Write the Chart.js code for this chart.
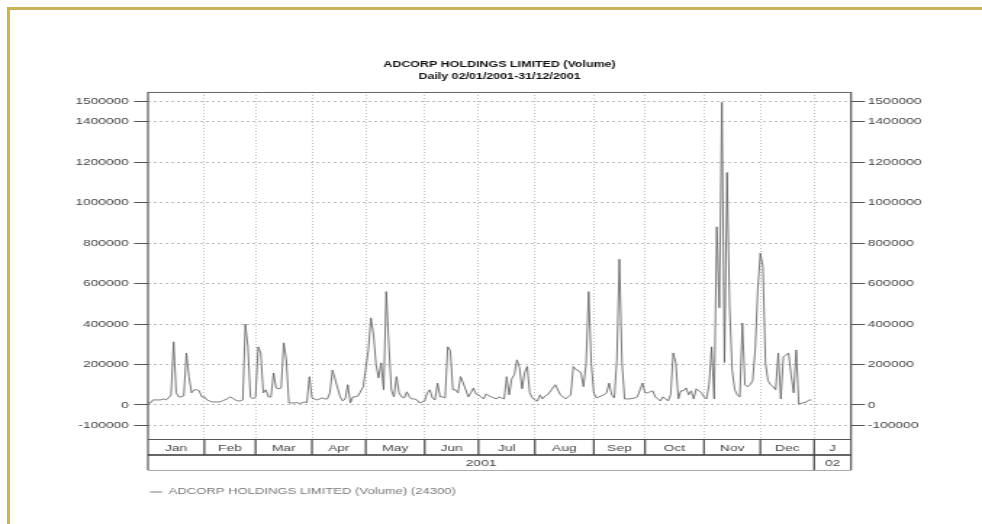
<!DOCTYPE html>
<html>
<head>
<meta charset="utf-8">
<script src="https://cdn.jsdelivr.net/npm/chart.js@4.4.1/dist/chart.umd.min.js"></script>
<style>
  html, body { margin: 0; padding: 0; background: #fff; }
  #frame {
    position: absolute; left: 7px; top: 7px; width: 975px; height: 517px;
    border-top: 3px solid #c9b45a; border-left: 3px solid #c9b45a; box-sizing: border-box;
  }
  #c { position: absolute; left: 0; top: 0; }
</style>
</head>
<body>
<div id="frame"></div>
<!-- the source picture is stretched sideways, so the canvas is drawn narrow and scaled up by css -->
<canvas id="c" width="677" height="524" style="width:982px;height:524px"></canvas>
<script>
const titleLines = ['ADCORP HOLDINGS LIMITED (Volume)', 'Daily 02/01/2001-31/12/2001'];
const seriesLabel = 'ADCORP HOLDINGS LIMITED (Volume) (24300)';
const monthNames = ['Jan', 'Feb', 'Mar', 'Apr', 'May', 'Jun', 'Jul', 'Aug', 'Sep', 'Oct', 'Nov', 'Dec', 'J'];
const yearNames = ['2001', '02'];
const yTicks = [-100000, 0, 200000, 400000, 600000, 800000, 1000000, 1200000, 1400000, 1500000];
const Y_MIN = -168000;
const Y_MAX = 1546000;
const X_MAX = 274.4; // axis runs a little into Jan 2002 (weekday index)

// JSE holidays in 2001 (no trading)
const holidays = ['2001-01-01', '2001-03-21', '2001-04-13', '2001-04-16', '2001-04-27', '2001-05-01',
  '2001-08-09', '2001-09-24', '2001-12-17', '2001-12-25', '2001-12-26'];

// daily volume, one value per trading day, month by month
const jan = [10000, 10000, 25000, 25000, 25000, 25000, 30000, 25000, 35000, 50000, 312000, 60000, 40000, 40000, 45000, 257000, 140000, 60000, 75000, 75000, 70000, 40000];
const feb = [40000, 25000, 20000, 15000, 15000, 15000, 15000, 20000, 25000, 30000, 40000, 35000, 25000, 20000, 20000, 25000, 400000, 290000, 40000, 30000];
const mar = [40000, 287000, 257000, 60000, 75000, 40000, 40000, 158000, 84000, 80000, 84000, 307000, 223000, 10000, 10000, 12000, 8000, 10000, 15000, 12000, 140000];
const apr = [35000, 30000, 25000, 30000, 35000, 30000, 30000, 60000, 173000, 40000, 20000, 30000, 100000, 10000, 40000, 40000, 45000, 90000];
const may = [270000, 430000, 350000, 200000, 134000, 208000, 75000, 560000, 300000, 74000, 40000, 140000, 60000, 40000, 35000, 65000, 40000, 30000, 30000, 25000, 10000, 15000];
const jun = [20000, 60000, 75000, 35000, 25000, 108000, 40000, 40000, 35000, 287000, 270000, 75000, 75000, 60000, 140000, 110000, 75000, 40000, 60000, 84000, 55000];
const jul = [50000, 40000, 30000, 55000, 45000, 40000, 35000, 30000, 40000, 35000, 30000, 140000, 50000, 130000, 150000, 223000, 185000, 80000, 160000, 190000, 60000, 35000];
const aug = [25000, 20000, 50000, 30000, 45000, 50000, 84000, 100000, 74000, 50000, 40000, 30000, 40000, 50000, 190000, 175000, 170000, 158000, 90000, 205000, 560000, 205000];
const sep = [60000, 35000, 40000, 45000, 50000, 60000, 108000, 50000, 35000, 220000, 720000, 210000, 30000, 30000, 30000, 35000, 40000, 74000, 108000];
const oct = [60000, 60000, 65000, 70000, 40000, 30000, 20000, 40000, 30000, 20000, 50000, 257000, 210000, 30000, 70000, 70000, 84000, 50000, 70000, 30000, 80000, 70000, 60000];
const nov = [40000, 30000, 100000, 287000, 30000, 880000, 480000, 1495000, 210000, 1148000, 485000, 170000, 75000, 50000, 40000, 405000, 100000, 90000, 100000, 120000, 272000, 570000];
const dec = [750000, 683000, 208000, 120000, 100000, 90000, 75000, 257000, 30000, 238000, 257000, 150000, 60000, 272000, 5000, 15000, 25000, 24300];

const monthVolumes = [jan, feb, mar, apr, may, jun, jul, aug, sep, oct, nov, dec];

// x = weekday index from 2 Jan 2001; holidays keep their slot but have no point
const points = [];
const monthStarts = [];
const used = new Array(12).fill(0);
let idx = 0;
const day = new Date(Date.UTC(2001, 0, 2));
while (day.getTime() <= Date.UTC(2002, 0, 1)) {
  const dow = day.getUTCDay();
  if (dow !== 0 && dow !== 6) {
    const m = day.getUTCFullYear() === 2002 ? 12 : day.getUTCMonth();
    if (monthStarts.length === m) monthStarts.push(idx);
    const iso = day.toISOString().slice(0, 10);
    if (m < 12 && !holidays.includes(iso)) {
      points.push({ x: idx, y: monthVolumes[m][used[m]++] });
    }
    idx++;
  }
  day.setUTCDate(day.getUTCDate() + 1);
}

const FONT = '"Liberation Sans", Arial, sans-serif';

// plot frame plus the month / year bands under the plot
const bandsPlugin = {
  id: 'bands',
  afterDraw(chart) {
    const { ctx, chartArea: a, scales: { x } } = chart;
    const top = a.bottom;
    const mid = top + 16;
    const bot = top + 31;
    const hline = (y, x1, x2, w, c) => {
      ctx.beginPath(); ctx.lineWidth = w; ctx.strokeStyle = c;
      ctx.moveTo(x1, y); ctx.lineTo(x2, y); ctx.stroke();
    };
    const vline = (xp, y1, y2, w, c) => {
      ctx.beginPath(); ctx.lineWidth = w; ctx.strokeStyle = c;
      ctx.moveTo(xp, y1); ctx.lineTo(xp, y2); ctx.stroke();
    };
    ctx.save();
    hline(a.top + 0.5, a.left, a.right, 1, '#666');
    hline(top + 0.5, a.left, a.right, 1, '#555');
    vline(a.left, a.top, bot, 1.2, '#555');
    vline(a.right, a.top, bot, 1.2, '#555');
    hline(mid, a.left, a.right, 1.6, '#333');
    hline(bot + 0.5, a.left, a.right, 1, '#aaa');

    ctx.font = '9.5px ' + FONT;
    ctx.fillStyle = '#444';
    ctx.textAlign = 'center';
    ctx.textBaseline = 'middle';
    monthNames.forEach((name, i) => {
      const x1 = x.getPixelForValue(monthStarts[i]);
      const x2 = i + 1 < monthStarts.length ? x.getPixelForValue(monthStarts[i + 1]) : a.right;
      if (i > 0) vline(x1, top, mid, 1.2, '#444');
      ctx.fillText(name, (x1 + x2) / 2, (top + mid) / 2 + 1);
    });
    const yearEdge = x.getPixelForValue(monthStarts[12]);
    vline(yearEdge, mid, bot, 1.2, '#444');
    ctx.fillText(yearNames[0], (a.left + yearEdge) / 2, (mid + bot) / 2 + 1);
    ctx.fillText(yearNames[1], (yearEdge + a.right) / 2, (mid + bot) / 2 + 1);
    ctx.restore();
  }
};

const yTickOpts = {
  font: { size: 9.5, family: FONT },
  color: '#444',
  autoSkip: false,
  callback: v => String(v)
};

new Chart(document.getElementById('c'), {
  type: 'line',
  data: {
    datasets: [{
      label: seriesLabel,
      data: points,
      borderColor: '#606060',
      backgroundColor: '#606060',
      borderWidth: 0.85,
      pointRadius: 0,
      tension: 0
    }]
  },
  options: {
    responsive: false,
    devicePixelRatio: 1,
    animation: false,
    events: [],
    layout: { padding: { top: 0, left: 0, right: 0, bottom: 17.5 } },
    scales: {
      x: {
        type: 'linear',
        min: 0,
        max: X_MAX,
        afterBuildTicks: s => { s.ticks = monthStarts.slice(1).map(v => ({ value: v })); },
        afterFit: s => { s.height = 47; },
        ticks: { display: false },
        grid: { color: '#bdbdbd', lineWidth: 1, drawTicks: false },
        border: { display: false, dash: [1, 2] }
      },
      y: {
        position: 'left',
        min: Y_MIN,
        max: Y_MAX,
        afterBuildTicks: s => { s.ticks = yTicks.map(v => ({ value: v })); },
        afterFit: s => { s.width = 102; },
        ticks: { ...yTickOpts, padding: 3.5 },
        grid: { color: '#bdbdbd', lineWidth: 1, tickColor: '#555', tickLength: 9.6 },
        border: { display: false, dash: [2, 2] }
      },
      y2: {
        position: 'right',
        min: Y_MIN,
        max: Y_MAX,
        afterBuildTicks: s => { s.ticks = yTicks.map(v => ({ value: v })); },
        afterFit: s => { s.width = 90.3; },
        ticks: { ...yTickOpts, padding: 2 },
        grid: { drawOnChartArea: false, tickColor: '#555', tickLength: 9.6 },
        border: { display: false }
      }
    },
    plugins: {
      tooltip: { enabled: false },
      title: {
        display: true,
        fullSize: false,
        text: titleLines,
        color: '#111',
        font: { size: 8.6, weight: 'bold', family: FONT, lineHeight: 1.4 },
        padding: { top: 59, bottom: 8.9 }
      },
      legend: {
        display: true,
        position: 'bottom',
        align: 'start',
        fullSize: false,
        labels: {
          usePointStyle: true,
          pointStyle: 'line',
          pointStyleWidth: 8.3,
          padding: 1.5,
          color: '#777',
          font: { size: 9, family: FONT }
        }
      }
    }
  },
  plugins: [bandsPlugin]
});
</script>
</body>
</html>
